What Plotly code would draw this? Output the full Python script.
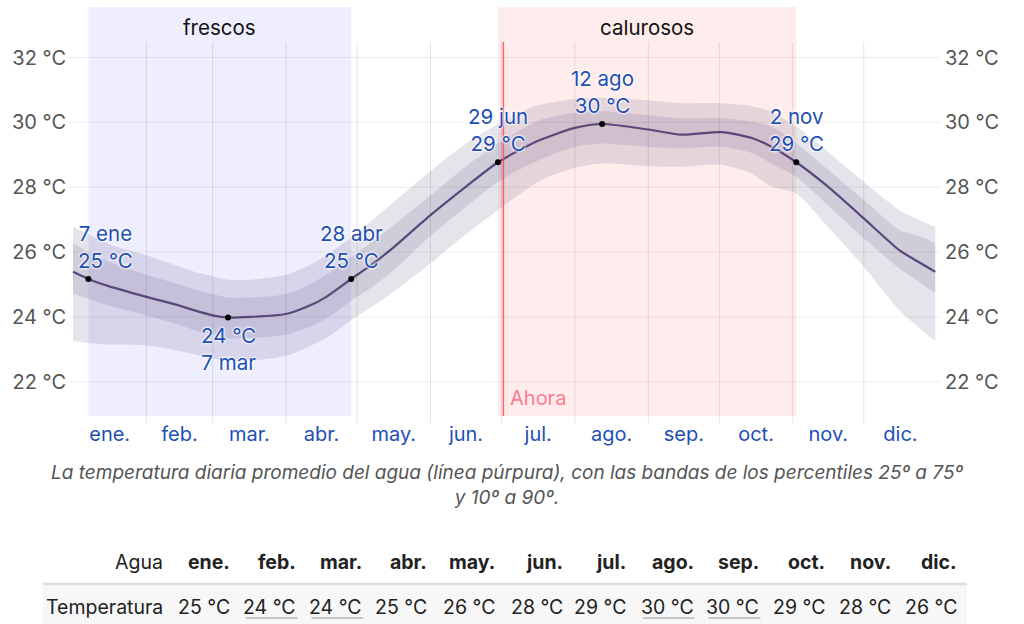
import plotly.graph_objects as go

# ---------------- data ----------------
months = ["ene.", "feb.", "mar.", "abr.", "may.", "jun.", "jul.", "ago.", "sep.", "oct.", "nov.", "dic."]
month_days = [31, 28, 31, 30, 31, 30, 31, 31, 30, 31, 30, 31]

day = [0, 6.5, 15, 31, 45, 51, 59, 65.5, 75, 90, 100, 107, 117.5, 125, 134, 151, 166, 179.5,
       190, 197, 212, 223.5, 243, 257, 274, 287, 295, 305.5, 318, 334, 349, 357, 364.2]
mean = [25.39, 25.17, 24.95, 24.62, 24.35, 24.21, 24.05, 23.98, 24.00, 24.09, 24.35, 24.62, 25.17,
        25.55, 26.06, 27.14, 28.02, 28.77, 29.20, 29.45, 29.83, 29.95, 29.78, 29.62, 29.70, 29.51,
        29.25, 28.77, 28.07, 27.04, 26.06, 25.70, 25.39]
p90 = [26.78, 26.55, 26.25, 25.90, 25.55, 25.40, 25.25, 25.15, 25.15, 25.30, 25.60, 25.90, 26.45,
       26.90, 27.45, 28.50, 29.35, 29.95, 30.35, 30.54, 30.72, 30.75, 30.68, 30.59, 30.59, 30.50,
       30.33, 29.87, 29.15, 28.17, 27.30, 27.00, 26.78]
p75 = [26.28, 26.00, 25.70, 25.30, 25.00, 24.85, 24.70, 24.60, 24.60, 24.70, 25.00, 25.30, 25.85,
       26.25, 26.75, 27.75, 28.65, 29.35, 29.80, 30.07, 30.30, 30.34, 30.22, 30.13, 30.13, 30.02,
       29.87, 29.35, 28.60, 27.61, 26.68, 26.50, 26.28]
p25 = [24.72, 24.55, 24.35, 24.05, 23.75, 23.60, 23.45, 23.35, 23.35, 23.45, 23.70, 23.95, 24.50,
       24.85, 25.35, 26.50, 27.40, 28.17, 28.60, 28.84, 29.25, 29.35, 29.25, 29.20, 29.25, 29.05,
       28.73, 28.32, 27.50, 26.43, 25.50, 25.10, 24.72]
p10 = [23.25, 23.20, 23.15, 23.12, 22.95, 22.85, 22.72, 22.65, 22.65, 22.80, 23.10, 23.35, 23.90,
       24.25, 24.70, 25.65, 26.55, 27.30, 27.85, 28.20, 28.60, 28.73, 28.65, 28.63, 28.69, 28.40,
       28.02, 27.81, 26.85, 25.55, 24.21, 23.70, 23.25]

# highlighted points
mark_days = [6.5, 65.5, 117.5, 179.5, 223.5, 305.5]
mark_vals = [25.17, 23.98, 25.17, 28.77, 29.95, 28.77]
mark_dates = ["7 ene", "7 mar", "28 abr", "29 jun", "12 ago", "2 nov"]

# seasons
cold_start, cold_end = 6.5, 117.5
hot_start, hot_end = 179.5, 305.5
now_day = 181.8

y_ticks = [22, 24, 26, 28, 30, 32]
y_labels = [f"{v} °C" for v in y_ticks]

# table
table_vals = [25, 24, 24, 25, 26, 28, 29, 30, 30, 29, 28, 26]
underlined = [False, True, True, False, False, False, False, True, True, False, False, False]

caption = ("La temperatura diaria promedio del agua (línea púrpura), con las bandas de los percentiles 25º a 75º"
           "<br>y 10º a 90º.")

# ---------------- layout geometry ----------------
W, H = 1024, 624
L, R, T, B = 67, 84, 42, 208
PW = W - L - R
PH = H - T - B
DAY0 = 71.0      # pixel of Jan 1
PXD = 2.373      # pixels per day


def px(x):
    return (x - L) / PW


def py(y):
    return (H - B - y) / PH


FONT = "Inter"
BLUE = "#1f4fb4"
band_col = "rgba(88,75,122,0.15)"

fig = go.Figure()

sm = 0.7
fig.add_trace(go.Scatter(x=day, y=p10, mode="lines", line=dict(width=0, shape="spline", smoothing=sm),
                         hoverinfo="skip", showlegend=False))
fig.add_trace(go.Scatter(x=day, y=p90, mode="lines", line=dict(width=0, shape="spline", smoothing=sm),
                         fill="tonexty", fillcolor=band_col, hoverinfo="skip", showlegend=False))
fig.add_trace(go.Scatter(x=day, y=p25, mode="lines", line=dict(width=0, shape="spline", smoothing=sm),
                         hoverinfo="skip", showlegend=False))
fig.add_trace(go.Scatter(x=day, y=p75, mode="lines", line=dict(width=0, shape="spline", smoothing=sm),
                         fill="tonexty", fillcolor=band_col, hoverinfo="skip", showlegend=False))
fig.add_trace(go.Scatter(x=day, y=mean, mode="lines",
                         line=dict(color="#5a4878", width=2.2, shape="spline", smoothing=sm),
                         hoverinfo="skip", showlegend=False))
fig.add_trace(go.Scatter(x=mark_days, y=mark_vals, mode="markers",
                         marker=dict(color="black", size=6), hoverinfo="skip", showlegend=False))
fig.add_trace(go.Scatter(x=[day[0]], y=[mean[0]], yaxis="y2", mode="markers",
                         marker=dict(opacity=0), hoverinfo="skip", showlegend=False))

bounds = []
acc = 0
centers = []
for d in month_days:
    centers.append(acc + d / 2)
    acc += d
    bounds.append(acc)
bounds = bounds[:-1]

shapes = []
shapes.append(dict(type="rect", xref="x", yref="paper", x0=cold_start, x1=cold_end,
                   y0=0, y1=py(7), fillcolor="#eeeeff", line_width=0, layer="below"))
shapes.append(dict(type="rect", xref="x", yref="paper", x0=hot_start, x1=hot_end,
                   y0=0, y1=py(7), fillcolor="#ffeded", line_width=0, layer="below"))
for v in y_ticks:
    shapes.append(dict(type="line", xref="paper", yref="y", x0=0, x1=1, y0=v, y1=v,
                       line=dict(color="rgba(0,0,0,0.07)", width=1), layer="above"))
for b in bounds:
    shapes.append(dict(type="line", xref="x", yref="paper", x0=b, x1=b, y0=py(423), y1=1,
                       line=dict(color="rgba(0,0,0,0.1)", width=1), layer="above"))
shapes.append(dict(type="line", xref="x", yref="paper", x0=now_day, x1=now_day, y0=0, y1=1,
                   line=dict(color="rgba(255,70,90,0.85)", width=1.5), layer="above"))
shapes.append(dict(type="rect", xref="paper", yref="paper", x0=px(41), x1=px(967), y0=py(624), y1=py(585),
                   fillcolor="#f7f7f7", line_width=0, layer="below"))
shapes.append(dict(type="line", xref="paper", yref="paper", x0=px(41), x1=px(967), y0=py(584), y1=py(584),
                   line=dict(color="#dddddd", width=2.5)))

ann = []
ann.append(dict(text="frescos", x=(cold_start + cold_end) / 2, xref="x", y=py(27), yref="paper",
                yanchor="middle", showarrow=False, font=dict(family=FONT, size=20.5, color="#111")))
ann.append(dict(text="calurosos", x=(hot_start + hot_end) / 2, xref="x", y=py(27), yref="paper",
                yanchor="middle", showarrow=False, font=dict(family=FONT, size=20.5, color="#111")))
ann.append(dict(text="Ahora", x=now_day, xref="x", xanchor="left", xshift=5, y=py(398), yref="paper",
                yanchor="middle", showarrow=False, font=dict(family=FONT, size=20, color="#ff7b8c")))

shifts = [17, 0, 0, 0, 0, 0]
for d, v, lab, xs in zip(mark_days, mark_vals, mark_dates, shifts):
    temp = f"{round(v)} °C"
    below = v == min(mark_vals)
    txt = f"{temp}<br>{lab}" if below else f"{lab}<br>{temp}"
    ann.append(dict(text=txt, x=d, y=v, xref="x", yref="y", showarrow=False,
                    xshift=xs, yshift=-3 if below else 4,
                    yanchor="top" if below else "bottom",
                    font=dict(family=FONT, size=20.5, color=BLUE,
                              shadow="0 0 3px white, 0 0 3px white, 0 0 2px white")))

ann.append(dict(text=caption, x=px(506), xref="paper", xanchor="center", y=py(485), yref="paper",
                yanchor="middle", showarrow=False,
                font=dict(family=FONT, size=19, color="#555", style="italic")))

col_right = [230, 297, 363, 428, 496, 564, 627, 695, 761, 827, 893, 959]
TF = dict(family=FONT, size=19.5, color="#222")
ann.append(dict(text="Agua", x=px(163), xref="paper", xanchor="right", y=py(562), yref="paper",
                yanchor="middle", showarrow=False, font=TF))
ann.append(dict(text="Temperatura", x=px(163), xref="paper", xanchor="right", y=py(607), yref="paper",
                yanchor="middle", showarrow=False, font=TF))
for m, v, u, xr in zip(months, table_vals, underlined, col_right):
    ann.append(dict(text=f"<b>{m}</b>", x=px(xr), xref="paper", xanchor="right", y=py(562), yref="paper",
                    yanchor="middle", showarrow=False, font=TF))
    ann.append(dict(text=f"{v} °C", x=px(xr), xref="paper", xanchor="right", y=py(607), yref="paper",
                    yanchor="middle", showarrow=False, font=TF))
    if u:
        shapes.append(dict(type="line", xref="paper", yref="paper", x0=px(xr - 53), x1=px(xr - 1),
                           y0=py(618), y1=py(618), line=dict(color="#9a9a9a", width=1)))

x_lo = (L - DAY0) / PXD
x_hi = (L + PW - DAY0) / PXD
y_lo = 22 - (H - B - 381.8) / 32.43
y_hi = 32 + (57.5 - T) / 32.43

fig.update_layout(
    width=W, height=H,
    margin=dict(l=L, r=R, t=T, b=B, pad=0),
    paper_bgcolor="white", plot_bgcolor="white",
    showlegend=False,
    hovermode=False,
    shapes=shapes,
    annotations=ann,
    xaxis=dict(range=[x_lo, x_hi], showgrid=False, zeroline=False, showline=False,
               tickmode="array", tickvals=centers, ticktext=months, ticks="",
               tickfont=dict(family=FONT, size=20, color=BLUE), ticklabelstandoff=4, fixedrange=True),
    yaxis=dict(range=[y_lo, y_hi], showgrid=False, zeroline=False, showline=False,
               tickmode="array", tickvals=y_ticks, ticktext=y_labels, ticks="",
               tickfont=dict(family=FONT, size=20, color="#555"), ticklabelstandoff=2, fixedrange=True),
    yaxis2=dict(range=[y_lo, y_hi], overlaying="y", side="right", showgrid=False, zeroline=False,
                showline=False, tickmode="array", tickvals=y_ticks, ticktext=y_labels, ticks="",
                tickfont=dict(family=FONT, size=20, color="#555"), ticklabelstandoff=4, fixedrange=True),
)

fig.write_html("out.html", config={"displayModeBar": False},
               post_script="document.body.style.margin='0';")
